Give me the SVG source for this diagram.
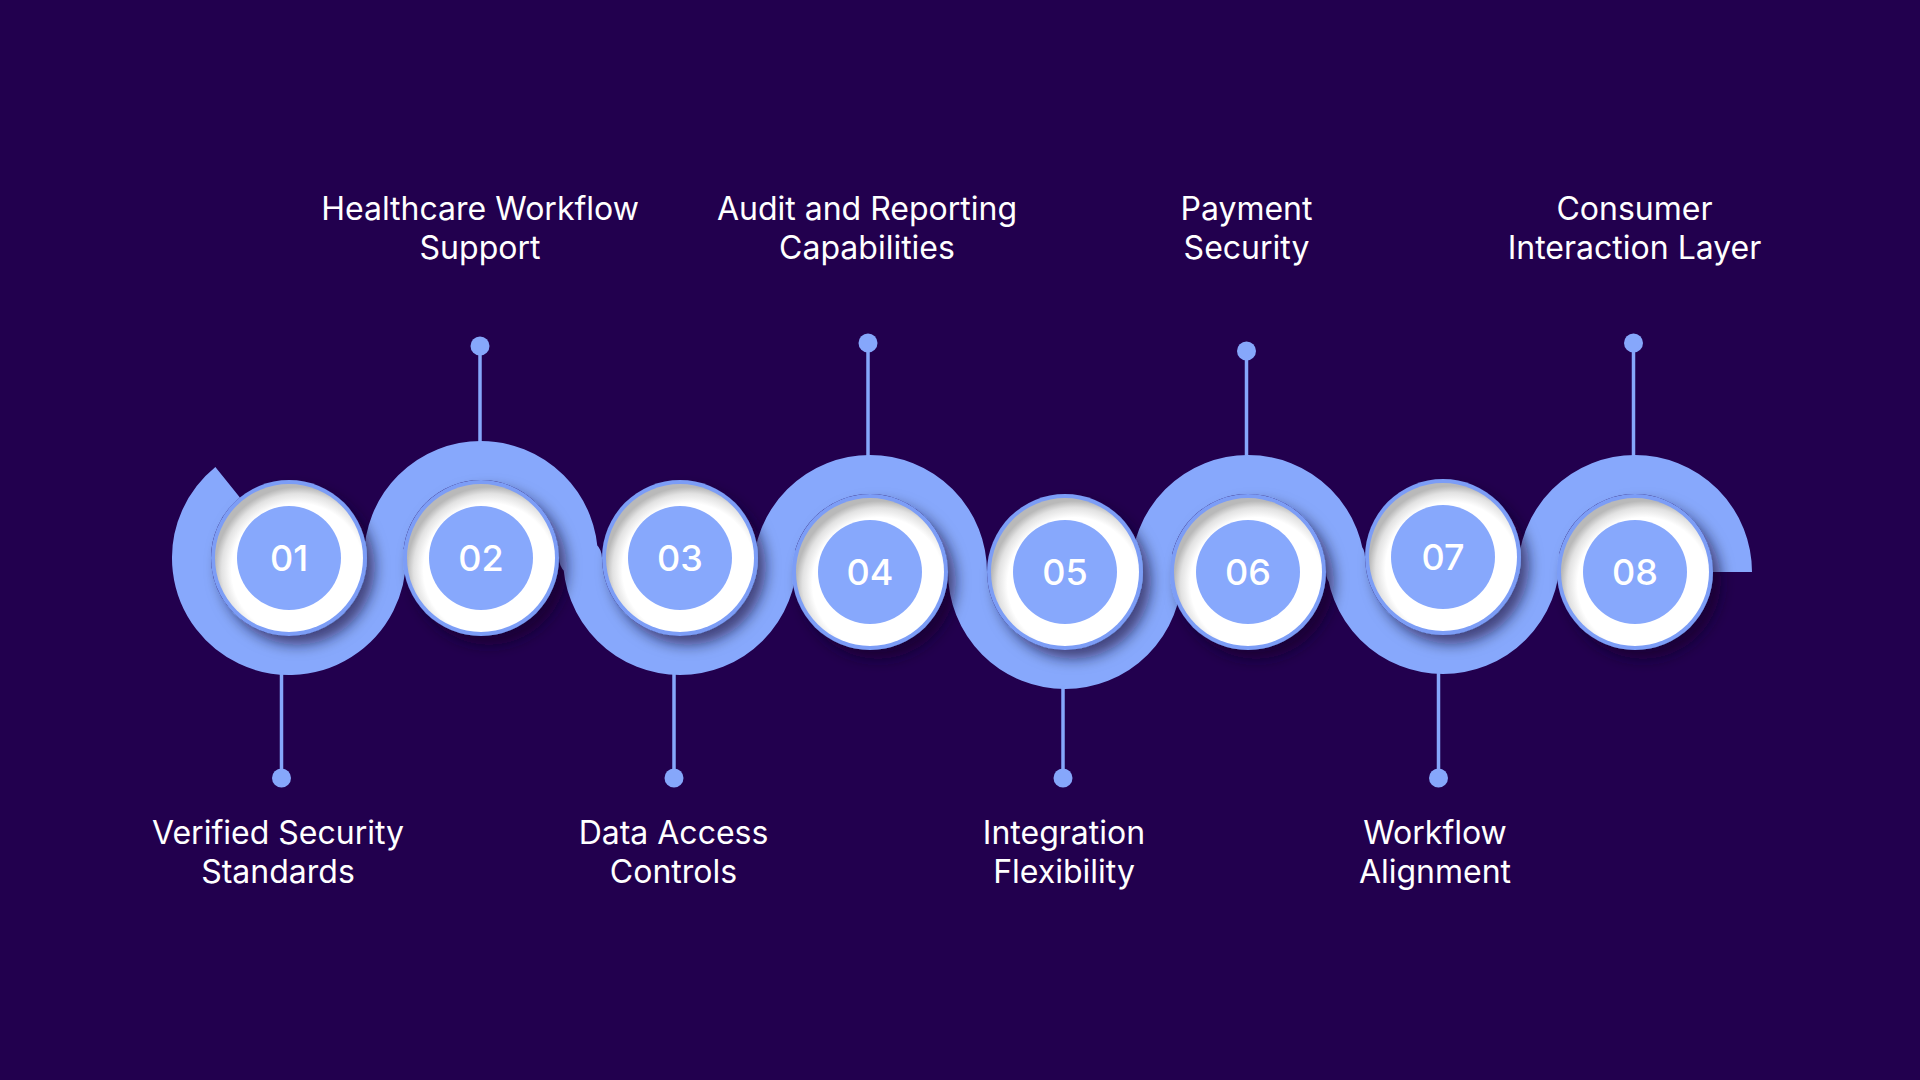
<svg xmlns="http://www.w3.org/2000/svg" width="1920" height="1080" viewBox="0 0 1920 1080">
<defs>
<style>
.lbl{font-family:Inter,"Noto Sans","Liberation Sans",sans-serif;font-size:32px;font-weight:400;fill:#ffffff;text-anchor:middle}
.num{font-family:Inter,"Noto Sans","Liberation Sans",sans-serif;font-size:36px;font-weight:500;fill:#ffffff;text-anchor:middle}
.lead{stroke:#86a7fb;stroke-width:3.5;fill:none}
.dot{fill:#86a7fb}
.rim{fill:#7c9df6}
.disk{fill:url(#dishGrad)}
.core{fill:#87a8fc}
</style>
<radialGradient id="dishGrad" cx="0.56" cy="0.58" r="0.56" fx="0.56" fy="0.58">
<stop offset="0" stop-color="#ffffff"/>
<stop offset="0.8" stop-color="#ffffff"/>
<stop offset="0.92" stop-color="#e2e2e2"/>
<stop offset="1" stop-color="#b9b9b9"/>
</radialGradient>
<filter id="shadow" x="-30%" y="-30%" width="170%" height="170%">
<feDropShadow dx="8" dy="9" stdDeviation="7" flood-color="#0e0026" flood-opacity="0.6"/>
</filter>
</defs>
<rect width="1920" height="1080" fill="#22004e"/>

<g id="connectors">
<path id="ribbon" d="M227.64,482.23 A97.5,97.5 0 1 0 386.5,558 L383.5,558 A97.5,97.5 0 0 1 578.5,558 L582.5,558 A97.5,97.5 0 0 0 777.5,558 L772.5,572 A97.5,97.5 0 0 1 967.5,572 L967.5,572 A97.5,97.5 0 0 0 1162.5,572 L1150.5,572 A97.5,97.5 0 0 1 1345.5,572 L1345.5,557 A97.5,97.5 0 0 0 1540.5,557 L1537.5,572 A97.5,97.5 0 0 1 1732.5,572" fill="none" stroke="#87a8fc" stroke-width="39" stroke-linejoin="round"/>
<line class="lead" x1="281.5" y1="670" x2="281.5" y2="778"/>
<circle class="dot" cx="281.5" cy="778" r="9.5"/>
<line class="lead" x1="480" y1="346" x2="480" y2="446"/>
<circle class="dot" cx="480" cy="346" r="9.5"/>
<line class="lead" x1="674" y1="670" x2="674" y2="778"/>
<circle class="dot" cx="674" cy="778" r="9.5"/>
<line class="lead" x1="868" y1="343" x2="868" y2="460"/>
<circle class="dot" cx="868" cy="343" r="9.5"/>
<line class="lead" x1="1063" y1="685" x2="1063" y2="778"/>
<circle class="dot" cx="1063" cy="778" r="9.5"/>
<line class="lead" x1="1246.5" y1="351" x2="1246.5" y2="460"/>
<circle class="dot" cx="1246.5" cy="351" r="9.5"/>
<line class="lead" x1="1438.5" y1="670" x2="1438.5" y2="778"/>
<circle class="dot" cx="1438.5" cy="778" r="9.5"/>
<line class="lead" x1="1633.5" y1="343" x2="1633.5" y2="460"/>
<circle class="dot" cx="1633.5" cy="343" r="9.5"/>
</g>

<g id="node-01">
<g filter="url(#shadow)"><circle class="rim" cx="289" cy="558" r="78"/></g>
<circle class="disk" cx="289" cy="558" r="74"/>
<circle class="core" cx="289" cy="558" r="52"/>
<text class="num" x="289" y="571">01</text>
<text class="lbl" x="278" y="844">Verified Security</text>
<text class="lbl" x="278" y="883">Standards</text>
</g>

<g id="node-02">
<g filter="url(#shadow)"><circle class="rim" cx="481" cy="558" r="78"/></g>
<circle class="disk" cx="481" cy="558" r="74"/>
<circle class="core" cx="481" cy="558" r="52"/>
<text class="num" x="481" y="571">02</text>
<text class="lbl" x="480" y="220">Healthcare Workflow</text>
<text class="lbl" x="480" y="259">Support</text>
</g>

<g id="node-03">
<g filter="url(#shadow)"><circle class="rim" cx="680" cy="558" r="78"/></g>
<circle class="disk" cx="680" cy="558" r="74"/>
<circle class="core" cx="680" cy="558" r="52"/>
<text class="num" x="680" y="571">03</text>
<text class="lbl" x="673.5" y="844">Data Access</text>
<text class="lbl" x="673.5" y="883">Controls</text>
</g>

<g id="node-04">
<g filter="url(#shadow)"><circle class="rim" cx="870" cy="572" r="78"/></g>
<circle class="disk" cx="870" cy="572" r="74"/>
<circle class="core" cx="870" cy="572" r="52"/>
<text class="num" x="870" y="585">04</text>
<text class="lbl" x="867" y="220">Audit and Reporting</text>
<text class="lbl" x="867" y="259">Capabilities</text>
</g>

<g id="node-05">
<g filter="url(#shadow)"><circle class="rim" cx="1065" cy="572" r="78"/></g>
<circle class="disk" cx="1065" cy="572" r="74"/>
<circle class="core" cx="1065" cy="572" r="52"/>
<text class="num" x="1065" y="585">05</text>
<text class="lbl" x="1064" y="844">Integration</text>
<text class="lbl" x="1064" y="883">Flexibility</text>
</g>

<g id="node-06">
<g filter="url(#shadow)"><circle class="rim" cx="1248" cy="572" r="78"/></g>
<circle class="disk" cx="1248" cy="572" r="74"/>
<circle class="core" cx="1248" cy="572" r="52"/>
<text class="num" x="1248" y="585">06</text>
<text class="lbl" x="1246.5" y="220">Payment</text>
<text class="lbl" x="1246.5" y="259">Security</text>
</g>

<g id="node-07">
<g filter="url(#shadow)"><circle class="rim" cx="1443" cy="557" r="78"/></g>
<circle class="disk" cx="1443" cy="557" r="74"/>
<circle class="core" cx="1443" cy="557" r="52"/>
<text class="num" x="1443" y="570">07</text>
<text class="lbl" x="1435" y="844">Workflow</text>
<text class="lbl" x="1435" y="883">Alignment</text>
</g>

<g id="node-08">
<g filter="url(#shadow)"><circle class="rim" cx="1635" cy="572" r="78"/></g>
<circle class="disk" cx="1635" cy="572" r="74"/>
<circle class="core" cx="1635" cy="572" r="52"/>
<text class="num" x="1635" y="585">08</text>
<text class="lbl" x="1634.5" y="220">Consumer</text>
<text class="lbl" x="1634.5" y="259">Interaction Layer</text>
</g>
</svg>
